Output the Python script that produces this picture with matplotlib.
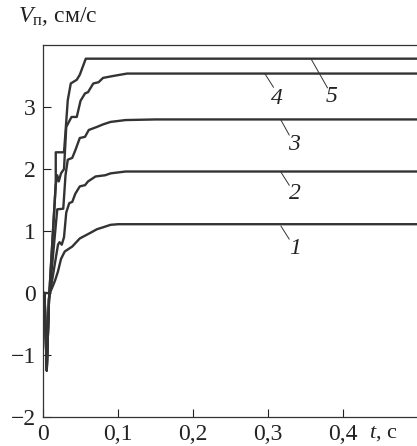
import matplotlib
matplotlib.use("Agg")
import matplotlib.pyplot as plt

plt.rcParams['font.family'] = ['Liberation Serif', 'DejaVu Serif']
plt.rcParams['mathtext.fontset'] = 'custom'
plt.rcParams['mathtext.rm'] = 'Liberation Serif'
plt.rcParams['mathtext.it'] = 'Liberation Serif:italic'

# -- data --
t1 = [0, 0.009, 0.012, 0.016, 0.020, 0.024, 0.029, 0.039, 0.049, 0.063, 0.072, 0.080, 0.090, 0.100, 0.5]
v1 = [0, 0, 0.08, 0.20, 0.35, 0.55, 0.67, 0.75, 0.88, 0.97, 1.03, 1.06, 1.10, 1.11, 1.11]

t2 = [0, 0.002, 0.005, 0.008, 0.020, 0.022, 0.025, 0.028, 0.031, 0.035, 0.039, 0.043, 0.049, 0.056, 0.060,
      0.070, 0.083, 0.090, 0.110, 0.5]
v2 = [0, 0, -1.25, -0.1, 0.78, 0.82, 0.78, 0.90, 1.30, 1.45, 1.47, 1.60, 1.72, 1.74, 1.80,
      1.88, 1.90, 1.93, 1.96, 1.96]

t3 = [0, 0.002, 0.005, 0.008, 0.019, 0.027, 0.030, 0.033, 0.039, 0.043, 0.049, 0.056, 0.061, 0.072, 0.080,
      0.090, 0.110, 0.150, 0.5]
v3 = [0, 0, -1.25, -0.1, 1.35, 1.36, 1.90, 2.15, 2.18, 2.30, 2.50, 2.52, 2.63, 2.68, 2.72,
      2.76, 2.79, 2.80, 2.80]

t4 = [0, 0.002, 0.005, 0.008, 0.017, 0.019, 0.021, 0.024, 0.028, 0.031, 0.038, 0.045, 0.050, 0.056, 0.060,
      0.067, 0.074, 0.080, 0.093, 0.112, 0.5]
v4 = [0, 0, -1.25, -0.1, 1.75, 1.90, 1.80, 1.93, 2.00, 2.68, 2.84, 2.84, 3.10, 3.22, 3.24,
      3.38, 3.40, 3.47, 3.50, 3.54, 3.54]

t5 = [0, 0.002, 0.005, 0.008, 0.017, 0.017, 0.028, 0.030, 0.033, 0.037, 0.045, 0.049, 0.057, 0.5]
v5 = [0, 0, -1.25, -0.1, 1.77, 2.27, 2.27, 2.60, 3.11, 3.38, 3.44, 3.52, 3.78, 3.78]

x_ticks = [0, 0.1, 0.2, 0.3, 0.4]
x_tick_labels = ['0', '0,1', '0,2', '0,3', '0,4']
y_ticks = [-2, -1, 0, 1, 2, 3]
y_tick_labels = ['\u22122', '\u22121', '0', '1', '2', '3']

# curve labels: text, leader start, leader end, text position
curve_labels = [
    ('1', (0.317, 1.08), (0.328, 0.87), (0.336, 0.72)),
    ('2', (0.317, 1.95), (0.328, 1.74), (0.335, 1.61)),
    ('3', (0.317, 2.79), (0.328, 2.55), (0.335, 2.40)),
    ('4', (0.296, 3.53), (0.307, 3.32), (0.312, 3.14)),
    ('5', (0.357, 3.78), (0.379, 3.31), (0.385, 3.17)),
]

fig = plt.figure(figsize=(4.17, 4.46), dpi=100)
ax = fig.add_axes([0.1031, 0.065, 0.9, 0.834])

line_color = '#333333'
for t, v in [(t1, v1), (t2, v2), (t3, v3), (t4, v4), (t5, v5)]:
    ax.plot(t, v, color=line_color, linewidth=1.7, solid_joinstyle='round')

for txt, p0, p1, pt in curve_labels:
    ax.plot([p0[0], p1[0]], [p0[1], p1[1]], color=line_color, linewidth=0.7)
    ax.text(pt[0], pt[1], txt, fontsize=17, style='italic', ha='center', va='center', color='#222222')

ax.set_xlim(0, 0.5)
ax.set_ylim(-2, 4)
ax.set_xticks(x_ticks)
ax.set_xticklabels(x_tick_labels)
ax.set_yticks(y_ticks)
ax.set_yticklabels(y_tick_labels)
ax.tick_params(direction='in', length=6, width=0.8, labelsize=17, colors='#222222', pad=5)
ax.spines['right'].set_visible(False)
for s in ['left', 'bottom', 'top']:
    ax.spines[s].set_linewidth(0.9)
    ax.spines[s].set_color('#333333')

fig.text(0.043, 0.962, r'$V_{\mathrm{п}}$, см/с', fontsize=17, ha='left', va='center', color='#222222')
fig.text(0.885, 0.028, r'$t$, с', fontsize=16, ha='left', va='center', color='#222222')

fig.savefig('out.png', dpi=100)
